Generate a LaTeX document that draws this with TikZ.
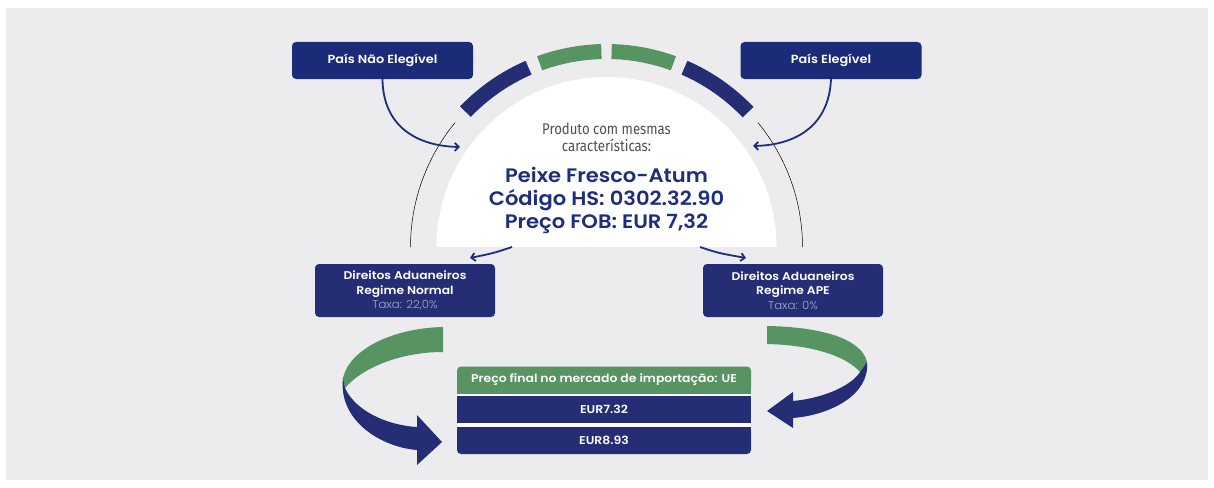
\documentclass[tikz,border=0pt]{standalone}
\usepackage{fontspec}
\setmainfont{Poppins}
\newfontfamily\lightf[FakeStretch=1.05]{Poppins Light}
\newfontfamily\semif[FakeStretch=1.1]{Poppins SemiBold}
\newfontfamily\bigf[FakeStretch=1.08]{Poppins SemiBold}
\newfontfamily\condf[FakeStretch=0.85]{Fira Sans}
\usetikzlibrary{arrows.meta,calc}
\definecolor{bg}{RGB}{236,236,238}
\definecolor{boxnavy}{RGB}{28,43,120}
\definecolor{navy}{RGB}{37,46,117}
\definecolor{txtnavy}{RGB}{30,45,125}
\definecolor{gr}{RGB}{88,148,98}
\definecolor{taxa}{RGB}{165,170,205}
\definecolor{thin}{RGB}{150,150,154}
\definecolor{prod}{RGB}{80,80,84}
\newcommand\ringseg[3]{\fill[#1] ($(c)+(-#2:188)$) arc[start angle=-#2, end angle=-#3, radius=188] -- ($(c)+(-#3:203)$) arc[start angle=-#3, end angle=-#2, radius=203] -- cycle;}
\tikzset{
  topbox/.style={fill=boxnavy, rounded corners=4pt, minimum width=181pt, minimum height=37pt, text=white, font=\semif\fontsize{11.7}{13}\selectfont, inner sep=0pt},
  dbox/.style={fill=navy, rounded corners=4pt, minimum width=180pt, minimum height=53pt, text=white, inner sep=0pt, align=center, font=\fontsize{11.2}{14.5}\selectfont},
  conn/.style={draw=txtnavy, line width=1.8pt, -{Straight Barb[length=4pt,width=8pt]}},
  rowbox/.style={fill=navy, minimum width=294pt, minimum height=27pt, inner sep=0pt, text=white, font=\semif\fontsize{11.3}{13}\selectfont},
  rowtxt/.style={text=white, font=\semif\fontsize{11.3}{13}\selectfont, inner sep=0pt},
  bigtxt/.style={anchor=base, text=txtnavy, font=\bigf\fontsize{19.5}{23}\selectfont, inner sep=0pt},
  prodtxt/.style={anchor=base, text=prod, font=\condf\fontsize{15.5}{17}\selectfont, inner sep=0pt},
}
\begin{document}
\begin{tikzpicture}[x=1pt,y=-1pt]
\useasboundingbox (0,0) rectangle (1214,487);
\fill[white] (0,0) rectangle (1214,487);
\fill[bg] (6,8) rectangle (1208,480);
\coordinate (c) at (606.5,247);
% thin arcs
\draw[thin, line width=0.5pt] ($(c)+(-180:196)$) arc[start angle=-180, end angle=-140.6, radius=196];
\draw[thin, line width=0.5pt] ($(c)+(0:196)$) arc[start angle=0, end angle=-39.4, radius=196];
% white half disc
\fill[white] ($(c)+(-180:170)$) arc[start angle=-180, end angle=0, radius=170] -- cycle;
% ring segments
\ringseg{navy}{113.5}{136.2}
\ringseg{gr}{91.5}{110}
\ringseg{gr}{70}{88.5}
\ringseg{navy}{43.6}{66.5}
% centre text
\node[prodtxt] (p1) at (606.5,134) {Produto com mesmas};
\node[prodtxt] (p2) at (606.5,151) {características:};
\node[bigtxt] (t1) at (606.5,182) {Peixe Fresco-Atum};
\node[bigtxt] (t2) at (606.5,205) {Código HS: 0302.32.90};
\node[bigtxt] (t3) at (606.5,228) {Preço FOB: EUR 7,32};
% top boxes
\node[topbox] (pne) at (382.5,60.5) {País Não Elegível};
\node[topbox] (pe) at (831,60.5) {País Elegível};
\coordinate (ae1) at (460,147);
\coordinate (ae2) at (753,146);
\draw[conn] (pne.south) .. controls (383,125) and (415,146) .. (ae1);
\draw[conn] (pe.south) .. controls (829,125) and (797,145) .. (ae2);
% duty boxes
\node[dbox] (dl) at (405,290.5) {\semif Direitos Aduaneiros\\\semif Regime Normal\\{\lightf\color{taxa}Taxa: 22,0\%}};
\node[dbox] (dr) at (793,290.5) {\semif Direitos Aduaneiros\\\semif Regime APE\\{\lightf\color{taxa}Taxa: 0\%}};
\coordinate (sl) at (512,247);
\coordinate (slt) at (470,258);
\coordinate (sr) at (700,247);
\coordinate (srt) at (746,258);
\draw[conn] (sl) .. controls (494,253) .. (slt);
\draw[conn] (sr) .. controls (718,253) .. (srt);
% ribbons
\fill[gr] (443,327) .. controls (395,328) and (350,348) .. (343,378) -- (345,388) .. controls (362,368) and (400,352) .. (443,352) -- cycle;
\fill[navy] (343,378) .. controls (338,420) and (380,447) .. (417,450) -- (417,465) -- (442,442) -- (417,415) -- (417,427) .. controls (385,425) and (355,410) .. (345,388) -- cycle;
\fill[gr] (767,326) .. controls (825,327) and (862,340) .. (867,362) -- (860,372) .. controls (845,355) and (810,345) .. (767,344) -- cycle;
\fill[navy] (867,362) .. controls (870,395) and (830,415) .. (793,418) -- (793,428) -- (767,411) -- (793,392) -- (793,401) .. controls (825,398) and (852,385) .. (860,372) -- cycle;
% table
\fill[white, rounded corners=4pt] (457,367) rectangle (751,454);
\node[rowbox, fill=gr, rounded corners=4pt] (hdr) at (604,380) {};
\fill[gr] (hdr.west) rectangle (hdr.south east);
\node[rowtxt] (hdrt) at (hdr.center) {Preço final no mercado de importação: UE};
\node[rowbox] (r1) at (604,409.5) {EUR7.32};
\node[rowbox, rounded corners=4pt] (r2) at (604,440.5) {};
\fill[navy] (r2.north west) rectangle (r2.east);
\node[rowtxt] (r2t) at (r2.center) {EUR8.93};
\end{tikzpicture}
\end{document}
